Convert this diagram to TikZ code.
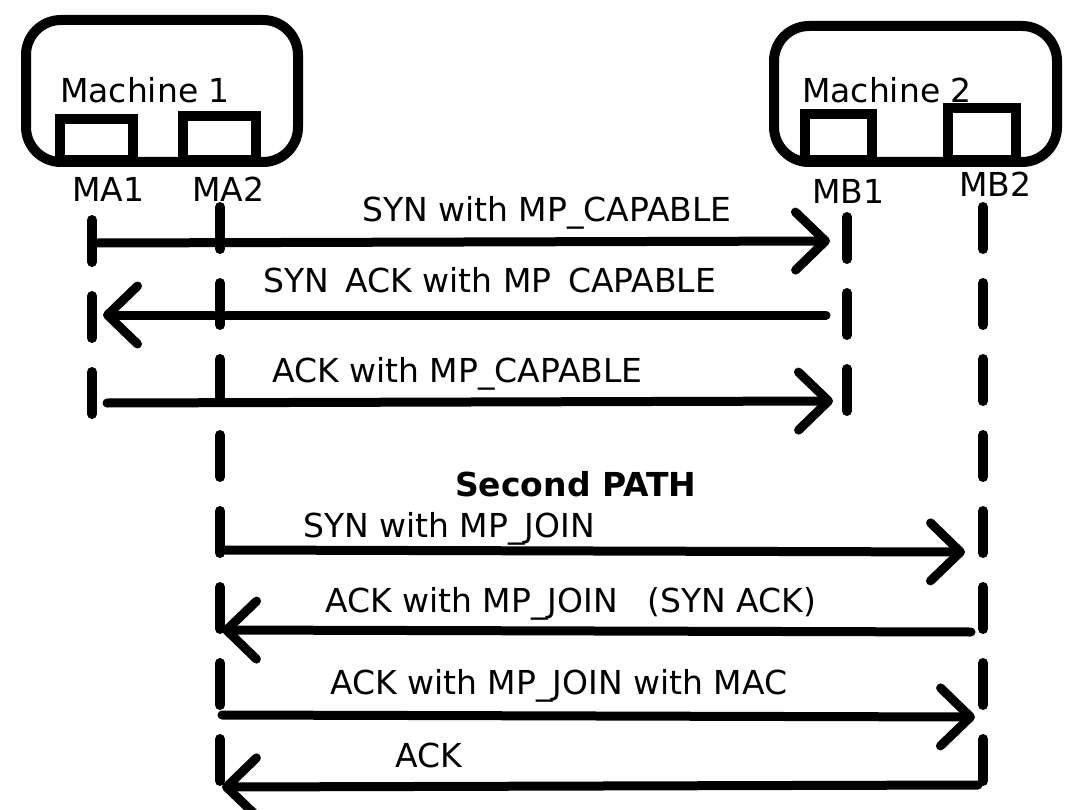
\documentclass[tikz,border=0pt]{standalone}
\usepackage{fontspec}
\setmainfont{DejaVu Sans}
\usetikzlibrary{arrows.meta}

\begin{document}
\begin{tikzpicture}[x=1pt,y=-1pt,
      machine/.style={draw,line width=10pt,rounded corners=35pt,inner sep=0pt},
      port/.style={draw,line width=10pt,inner sep=0pt},
      life/.style={line width=10pt,line cap=round,dash pattern=on 42pt off 34pt},
      msg/.style={-{Straight Barb[length=30pt,width=58pt,round]},line width=9pt,line cap=round},
      lbl/.style={inner sep=0pt,anchor=base west,font=\fontsize{33}{39}\selectfont}
    ]
      \useasboundingbox (0,0) rectangle (1078,810);
      \node[machine,minimum width=272pt,minimum height=142pt] (m1) at (162,91) {};
      \node[machine,minimum width=283pt,minimum height=136pt] (m2) at (915.5,94) {};
      \node[port,minimum width=73pt,minimum height=41pt] (pa1) at (96.5,139.5) {};
      \node[port,minimum width=73pt,minimum height=44pt] (pa2) at (219.5,138) {};
      \node[port,minimum width=67pt,minimum height=46pt] (pb1) at (838.5,137) {};
      \node[port,minimum width=68pt,minimum height=52pt] (pb2) at (982,134) {};
      \node[lbl] (m1name) at (60,103) {Machine 1};
      \node[lbl] (m2name) at (802,103) {Machine 2};
      \node[lbl] (ma1) at (72,202) {MA1};
      \node[lbl] (ma2) at (192,202) {MA2};
      \node[lbl] (mb1) at (812,204) {MB1};
      \node[lbl] (mb2) at (959,197) {MB2};
      \coordinate (ma1top) at (92,220);
      \coordinate (ma1end) at (92,440);
      \coordinate (ma2top) at (220,207);
      \coordinate (ma2end) at (220,830);
      \coordinate (mb1top) at (847,217);
      \coordinate (mb1end) at (847,428);
      \coordinate (mb2top) at (983,207);
      \coordinate (mb2end) at (983,830);
      \draw[life] (ma1top) -- (ma1end);
      \draw[life] (ma2top) -- (ma2end);
      \draw[life] (mb1top) -- (mb1end);
      \draw[life] (mb2top) -- (mb2end);
      \coordinate (a1) at (98,243);
      \coordinate (b1) at (830,241);
      \coordinate (a2) at (103,315);
      \coordinate (b2) at (826,315);
      \coordinate (a3) at (107,403);
      \coordinate (b3) at (833,401);
      \coordinate (a4) at (225,550);
      \coordinate (b4) at (965,552);
      \coordinate (a5) at (222,630);
      \coordinate (b5) at (971,632);
      \coordinate (a6) at (222,715);
      \coordinate (b6) at (975,717);
      \coordinate (a7) at (222,787);
      \coordinate (b7) at (978,785);
      \draw[msg] (a1) -- (b1);
      \draw[msg] (b2) -- (a2);
      \draw[msg] (a3) -- (b3);
      \draw[msg] (a4) -- (b4);
      \draw[msg] (b5) -- (a5);
      \draw[msg] (a6) -- (b6);
      \draw[msg] (b7) -- (a7);
      \node[lbl] (t1) at (362,222) {SYN with MP\_CAPABLE};
      \node[lbl] (t2) at (263,292) {SYN\enspace ACK with MP\enspace CAPABLE};
      \node[lbl] (t3) at (272,382) {ACK with MP\_CAPABLE};
      \node[lbl,font=\fontsize{33}{39}\selectfont\bfseries] (t4) at (455,496) {Second PATH};
      \node[lbl] (t5) at (303,537) {SYN with MP\_JOIN};
      \node[lbl] (t6) at (325,612) {ACK with MP\_JOIN\hspace{0.9em}(SYN ACK)};
      \node[lbl] (t7) at (330,694) {ACK with MP\_JOIN with MAC};
      \node[lbl] (t8) at (395,767) {ACK};
    \end{tikzpicture}
\end{document}
